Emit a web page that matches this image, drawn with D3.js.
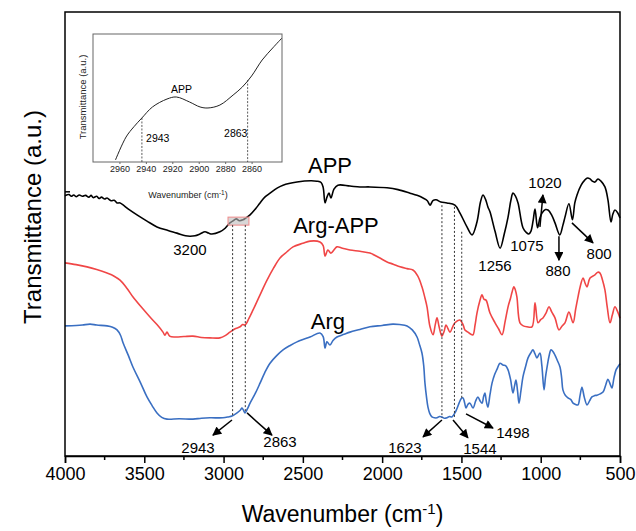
<!DOCTYPE html>
<html>
<head>
<meta charset="utf-8">
<script src="https://cdn.jsdelivr.net/npm/d3@7"></script>
<style>
  body { margin: 0; background: #fff; }
  text { font-family: "Liberation Sans", Arial, sans-serif; }
</style>
</head>
<body>
<div id="chart"></div>
<script>
// ---------------------------
// Data (wavenumber cm-1, transmittance a.u.)
// ---------------------------
const appSpectrum = [
  [4000, 58.6], [3975, 58.9], [3960, 58.5], [3945, 58.8], [3930, 58.4], [3910, 58.8], [3890, 58.5],
  [3870, 58.7], [3850, 58.3], [3835, 58.7], [3823, 58.2], [3800, 58.5], [3785, 58.0], [3770, 58.3],
  [3750, 57.9], [3735, 58.1], [3710, 57.5], [3690, 57.6], [3672, 57.0], [3653, 57.0], [3600, 55.6],
  [3546, 54.3], [3483, 52.9], [3420, 51.6], [3350, 50.8], [3294, 50.2], [3240, 49.6], [3212, 49.5],
  [3180, 49.6], [3149, 50.0], [3117, 50.5], [3095, 50.2], [3073, 50.0], [3023, 50.5], [2990, 51.3],
  [2960, 52.5], [2943, 52.9], [2920, 53.4], [2900, 53.0], [2877, 53.2], [2863, 53.5], [2833, 54.3],
  [2800, 55.6], [2770, 57.0], [2740, 58.3], [2707, 59.2], [2660, 60.4], [2625, 61.0], [2537, 61.7],
  [2450, 62.0], [2411, 61.9], [2385, 61.6], [2372, 60.5], [2360, 57.0], [2348, 58.3], [2335, 59.2],
  [2323, 58.1], [2304, 60.1], [2279, 61.0], [2203, 60.8], [2140, 60.6], [2077, 60.6], [1969, 60.4],
  [1900, 60.0], [1824, 59.2], [1780, 58.7], [1742, 58.1], [1715, 57.5], [1698, 56.5], [1680, 57.5],
  [1660, 57.7], [1630, 57.2], [1591, 57.0], [1541, 56.5], [1509, 54.7], [1465, 51.6], [1433, 49.8],
  [1402, 52.7], [1380, 57.2], [1364, 58.8], [1348, 57.8], [1333, 56.1], [1320, 55.0], [1288, 50.6],
  [1256, 46.8], [1230, 50.0], [1206, 53.8], [1188, 57.6], [1175, 59.2], [1160, 58.6], [1143, 57.0],
  [1112, 51.4], [1090, 50.3], [1075, 50.0], [1062, 50.6], [1048, 53.0], [1036, 55.6], [1020, 51.4],
  [1005, 53.6], [992, 54.7], [970, 55.5], [954, 55.4], [930, 54.2], [910, 52.5], [880, 49.8],
  [860, 52.0], [847, 53.8], [822, 56.8], [800, 53.2], [785, 57.0], [771, 58.8], [745, 61.0],
  [721, 62.2], [705, 62.6], [689, 62.4], [675, 61.9], [658, 61.7], [639, 62.4], [620, 61.9],
  [595, 60.6], [576, 57.7], [557, 52.7], [545, 54.5], [532, 55.4], [515, 54.8], [500, 53.6]
];

const argAppSpectrum = [
  [4000, 43.5], [3930, 43.1], [3861, 42.6], [3800, 42.0], [3735, 41.2], [3690, 40.5], [3653, 39.6],
  [3610, 37.8], [3571, 35.8], [3520, 33.6], [3464, 31.3], [3420, 29.6], [3382, 27.9], [3370, 27.2],
  [3357, 27.9], [3340, 27.0], [3306, 26.8], [3250, 26.9], [3193, 27.0], [3140, 26.7], [3086, 26.6],
  [3023, 26.6], [2990, 27.1], [2960, 27.9], [2930, 28.6], [2896, 29.1], [2880, 29.6], [2865, 29.5],
  [2840, 31.0], [2814, 32.9], [2770, 36.3], [2726, 39.6], [2685, 42.3], [2644, 44.6], [2600, 46.0],
  [2562, 47.1], [2500, 47.9], [2455, 48.4], [2392, 48.2], [2372, 47.4], [2360, 45.0], [2342, 46.4],
  [2323, 45.7], [2300, 46.6], [2285, 47.1], [2250, 46.8], [2203, 46.4], [2140, 46.1], [2077, 45.7],
  [2020, 44.7], [1969, 43.7], [1930, 43.2], [1887, 42.6], [1843, 42.2], [1806, 41.9], [1775, 40.5],
  [1749, 38.1], [1730, 35.6], [1717, 33.6], [1698, 29.1], [1679, 27.3], [1665, 29.6], [1654, 31.1],
  [1640, 29.0], [1623, 27.0], [1610, 28.0], [1597, 29.5], [1585, 28.7], [1572, 27.9], [1555, 29.1],
  [1541, 30.0], [1509, 30.6], [1490, 29.6], [1478, 28.4], [1459, 27.9], [1440, 27.4], [1427, 27.3],
  [1414, 29.5], [1402, 32.2], [1385, 34.8], [1370, 36.3], [1358, 35.3], [1345, 35.1], [1320, 32.2],
  [1288, 30.0], [1265, 28.6], [1244, 27.3], [1225, 30.2], [1206, 33.6], [1190, 35.6], [1181, 36.9],
  [1169, 38.1], [1160, 37.4], [1150, 35.8], [1131, 30.0], [1110, 29.3], [1087, 29.1], [1055, 29.1],
  [1036, 34.5], [1017, 30.0], [1000, 30.7], [986, 31.1], [965, 32.3], [948, 33.6], [930, 32.4],
  [910, 31.1], [885, 28.4], [865, 29.3], [847, 30.0], [822, 32.4], [796, 30.0], [780, 33.0],
  [765, 35.8], [750, 38.3], [733, 40.1], [720, 38.9], [708, 38.1], [689, 40.1], [658, 40.8],
  [640, 41.4], [626, 41.2], [610, 39.6], [595, 37.4], [580, 33.4], [563, 30.0], [548, 31.8],
  [532, 33.6], [515, 32.5], [500, 31.0]
];

const argSpectrum = [
  [4000, 29.3], [3930, 29.4], [3890, 29.5], [3842, 29.7], [3800, 29.5], [3735, 29.3], [3700, 29.0],
  [3672, 28.4], [3650, 27.2], [3634, 25.5], [3600, 22.6], [3571, 20.0], [3525, 16.6], [3483, 13.3],
  [3450, 11.3], [3420, 9.7], [3390, 8.7], [3357, 8.3], [3280, 8.4], [3193, 8.3], [3140, 8.5],
  [3086, 8.6], [3004, 8.6], [2970, 8.8], [2947, 9.0], [2915, 9.7], [2895, 10.3], [2884, 10.8],
  [2873, 10.2], [2865, 9.7], [2850, 10.6], [2833, 11.9], [2800, 14.1], [2770, 16.4], [2740, 18.8],
  [2707, 20.9], [2665, 22.6], [2625, 23.9], [2580, 24.9], [2537, 25.7], [2455, 26.8], [2392, 27.7],
  [2372, 26.9], [2360, 24.3], [2348, 25.7], [2329, 25.0], [2310, 26.0], [2285, 26.8], [2240, 27.4],
  [2203, 27.9], [2140, 28.5], [2077, 29.1], [2000, 29.4], [1932, 29.7], [1890, 29.6], [1843, 29.3],
  [1810, 28.4], [1780, 26.8], [1765, 25.2], [1749, 23.2], [1738, 20.4], [1730, 16.4], [1720, 13.2],
  [1711, 11.0], [1700, 9.6], [1686, 8.8], [1670, 8.6], [1654, 8.6], [1638, 8.9], [1623, 8.8],
  [1607, 8.5], [1591, 8.6], [1575, 8.9], [1560, 8.8], [1541, 9.7], [1528, 10.7], [1515, 11.9],
  [1500, 13.0], [1490, 13.1], [1480, 12.0], [1471, 10.8], [1458, 11.7], [1446, 11.9], [1427, 10.8],
  [1410, 12.4], [1396, 13.3], [1382, 12.4], [1370, 11.9], [1360, 13.4], [1352, 14.2], [1343, 12.3],
  [1333, 11.0], [1320, 13.8], [1307, 16.4], [1290, 18.4], [1276, 19.5], [1257, 20.9], [1238, 20.5],
  [1220, 20.3], [1206, 19.4], [1190, 17.2], [1175, 14.2], [1165, 15.8], [1156, 17.1], [1146, 14.6],
  [1137, 11.9], [1125, 14.6], [1112, 17.8], [1095, 20.2], [1080, 22.1], [1063, 23.2], [1049, 23.9],
  [1036, 23.0], [1024, 22.1], [1005, 23.2], [993, 20.4], [979, 14.9], [970, 17.7], [960, 20.0],
  [948, 22.4], [935, 23.9], [922, 23.5], [910, 22.7], [895, 21.5], [878, 20.0], [868, 17.6],
  [860, 14.9], [845, 13.7], [828, 13.1], [810, 12.7], [796, 11.9], [780, 11.6], [765, 11.5],
  [752, 13.6], [740, 15.5], [725, 13.2], [708, 11.5], [692, 12.4], [677, 13.3], [660, 13.6],
  [645, 13.7], [625, 14.0], [607, 14.4], [590, 16.0], [576, 17.3], [562, 16.2], [551, 15.3],
  [538, 17.6], [525, 19.4], [515, 20.0], [500, 20.8]
];

// zoomed APP region for the inset
const insetSpectrum = [
  [2963, 1.6], [2955, 19.5], [2949, 27.6], [2943, 34.4], [2935, 43.0], [2924, 49.2], [2917, 50.8],
  [2907, 46.9], [2899, 43.0], [2893, 42.2], [2884, 44.5], [2874, 52.3], [2867, 58.6], [2860, 67.2],
  [2852, 79.7], [2844, 89.1], [2837, 96.9]
];

const xTicks = [4000, 3500, 3000, 2500, 2000, 1500, 1000, 500];
const xMinorTicks = [3750, 3250, 2750, 2250, 1750, 1250, 750];
const insetTicks = [2960, 2940, 2920, 2900, 2880, 2860];

const seriesNames = ["APP", "Arg-APP", "Arg"];
const seriesLabelPos = [[2329, 65.5], [2291, 52.0], [2342, 30.2]];

// peak label text, label position (wn, T)
const peakLabels = [
  ["3200", 3212, 46.6], ["1256", 1288, 43.0], ["1075", 1087, 47.5],
  ["1020", 973, 61.5], ["880", 891, 41.7], ["800", 632, 45.7],
  ["2943", 3161, 2.0], ["2863", 2644, 3.2], ["1623", 1856, 2.0],
  ["1544", 1383, 1.6], ["1498", 1175, 5.2]
];

// arrows: from (wn, T) to (wn, T)
const arrows = [
  [1005, 51.6, 986, 58.8], [885, 49.5, 885, 44.1], [803, 52.5, 670, 48.0],
  [2947, 8.1, 3067, 4.7], [2852, 9.7, 2695, 4.7],
  [1623, 8.1, 1742, 4.3], [1553, 8.1, 1459, 4.1], [1471, 9.5, 1301, 6.3]
];

// dashed guides: wavenumber, top T, bottom T
const guides = [
  [2943, 52.0, 9.2], [2863, 52.0, 9.9],
  [1623, 56.5, 8.6], [1544, 56.1, 8.6], [1498, 50.5, 13.1]
];

// ---------------------------
// Layout
// ---------------------------
const width = 636;
const height = 531;
const margin = { left: 65, right: 16, top: 12, bottom: 75 };

const svg = d3.select("#chart")
  .append("svg")
  .attr("width", width)
  .attr("height", height);

const x = d3.scaleLinear().domain([4000, 500]).range([margin.left, width - margin.right]);
const y = d3.scaleLinear().domain([0, 100]).range([height - margin.bottom, margin.top]);

const colors = ["#000000", "#f04646", "#3a6fc2"];

svg.append("defs").append("marker")
  .attr("id", "head")
  .attr("markerUnits", "userSpaceOnUse")
  .attr("viewBox", "0 0 10 10")
  .attr("refX", 9)
  .attr("refY", 5)
  .attr("markerWidth", 10)
  .attr("markerHeight", 9)
  .attr("orient", "auto")
  .append("path")
  .attr("d", "M0,0 L10,5 L0,10 Z")
  .attr("fill", "#000");

// ---------------------------
// Curves
// ---------------------------
const line = d3.line()
  .x(d => x(d[0]))
  .y(d => y(d[1]))
  .curve(d3.curveCatmullRom.alpha(0.5));

[appSpectrum, argAppSpectrum, argSpectrum].forEach((s, i) => {
  svg.append("path")
    .datum(s)
    .attr("fill", "none")
    .attr("stroke", colors[i])
    .attr("stroke-width", 1.6)
    .attr("d", line);
});

// highlighted region on APP
svg.append("rect")
  .attr("x", x(2972))
  .attr("y", y(53.8))
  .attr("width", x(2840) - x(2972))
  .attr("height", y(52.0) - y(53.8))
  .attr("fill", "#bdbdbd")
  .attr("fill-opacity", 0.6)
  .attr("stroke", "#f08a8a")
  .attr("stroke-width", 1);

// dashed guides
svg.append("g")
  .selectAll("line")
  .data(guides)
  .join("line")
  .attr("x1", d => x(d[0]))
  .attr("x2", d => x(d[0]))
  .attr("y1", d => y(d[1]))
  .attr("y2", d => y(d[2]))
  .attr("stroke", "#333")
  .attr("stroke-width", 1)
  .attr("stroke-dasharray", "2,2");

// arrows
svg.append("g")
  .selectAll("line")
  .data(arrows)
  .join("line")
  .attr("x1", d => x(d[0]))
  .attr("y1", d => y(d[1]))
  .attr("x2", d => x(d[2]))
  .attr("y2", d => y(d[3]))
  .attr("stroke", "#000")
  .attr("stroke-width", 1.5)
  .attr("marker-end", "url(#head)");

// peak labels
svg.append("g")
  .selectAll("text")
  .data(peakLabels)
  .join("text")
  .attr("x", d => x(d[1]))
  .attr("y", d => y(d[2]))
  .attr("text-anchor", "middle")
  .attr("dominant-baseline", "central")
  .attr("font-size", 15)
  .text(d => d[0]);

// series labels
svg.append("g")
  .selectAll("text")
  .data(seriesNames)
  .join("text")
  .attr("x", (d, i) => x(seriesLabelPos[i][0]))
  .attr("y", (d, i) => y(seriesLabelPos[i][1]))
  .attr("text-anchor", "middle")
  .attr("dominant-baseline", "central")
  .attr("font-size", 22)
  .text(d => d);

// ---------------------------
// Axes / frame
// ---------------------------
const plotBottom = height - margin.bottom;

svg.append("rect")
  .attr("x", margin.left)
  .attr("y", margin.top)
  .attr("width", width - margin.right - margin.left)
  .attr("height", plotBottom - margin.top)
  .attr("fill", "none")
  .attr("stroke", "#000")
  .attr("stroke-width", 1.5);

const xAxis = svg.append("g")
  .attr("transform", `translate(0,${plotBottom})`)
  .call(d3.axisBottom(x).tickValues(xTicks).tickSize(7).tickPadding(4).tickFormat(d3.format("d")));
xAxis.select(".domain").attr("stroke-width", 1.5);
xAxis.selectAll(".tick line").attr("stroke-width", 1.5);
xAxis.selectAll("text").attr("font-size", 18).attr("fill", "#000")
  .attr("font-family", "Liberation Sans, Arial, sans-serif");

svg.append("g")
  .attr("transform", `translate(0,${plotBottom})`)
  .selectAll("line")
  .data(xMinorTicks)
  .join("line")
  .attr("x1", d => x(d))
  .attr("x2", d => x(d))
  .attr("y1", 0)
  .attr("y2", 4)
  .attr("stroke", "#000")
  .attr("stroke-width", 1.5);

// y tick (no labels)
svg.append("line")
  .attr("x1", margin.left)
  .attr("x2", margin.left + 5)
  .attr("y1", y(59.5))
  .attr("y2", y(59.5))
  .attr("stroke", "#000")
  .attr("stroke-width", 1.5);

const xTitle = svg.append("text")
  .attr("x", (margin.left + width - margin.right) / 2)
  .attr("y", 522)
  .attr("text-anchor", "middle")
  .attr("font-size", 23);
xTitle.append("tspan").text("Wavenumber (cm");
xTitle.append("tspan").attr("baseline-shift", "super").attr("font-size", 15).text("-1");
xTitle.append("tspan").text(")");

svg.append("text")
  .attr("transform", `translate(32,${(margin.top + plotBottom) / 2 - 17}) rotate(-90)`)
  .attr("text-anchor", "middle")
  .attr("dominant-baseline", "central")
  .attr("font-size", 24)
  .text("Transmittance (a.u.)");

// ---------------------------
// Inset
// ---------------------------
const ix = d3.scaleLinear().domain([2980, 2837]).range([93, 282]);
const iy = d3.scaleLinear().domain([0, 100]).range([162, 34]);

const inset = svg.append("g");

inset.append("clipPath").attr("id", "insetClip")
  .append("rect").attr("x", 93).attr("y", 34).attr("width", 189).attr("height", 128);

inset.append("path")
  .datum(insetSpectrum)
  .attr("clip-path", "url(#insetClip)")
  .attr("fill", "none")
  .attr("stroke", "#222")
  .attr("stroke-width", 1)
  .attr("d", d3.line().x(d => ix(d[0])).y(d => iy(d[1])).curve(d3.curveCatmullRom.alpha(0.5)));

inset.append("rect")
  .attr("x", 93).attr("y", 34).attr("width", 189).attr("height", 128)
  .attr("fill", "none")
  .attr("stroke", "#666")
  .attr("stroke-width", 1);

const insetGuides = [[2943, 34.4], [2863, 64.0]];
inset.selectAll("line.g")
  .data(insetGuides)
  .join("line")
  .attr("x1", d => ix(d[0]))
  .attr("x2", d => ix(d[0]))
  .attr("y1", d => iy(d[1]))
  .attr("y2", iy(0))
  .attr("stroke", "#333")
  .attr("stroke-width", 0.8)
  .attr("stroke-dasharray", "2,1.5");

const insetLabels = [["2943", 2931, 18.8, "middle"], ["2863", 2872, 22.7, "middle"], ["APP", 2913, 57, "middle"]];
inset.selectAll("text.l")
  .data(insetLabels)
  .join("text")
  .attr("x", d => ix(d[1]))
  .attr("y", d => iy(d[2]))
  .attr("text-anchor", d => d[3])
  .attr("dominant-baseline", "central")
  .attr("font-size", 10.5)
  .text(d => d[0]);

const iAxis = inset.append("g")
  .attr("transform", "translate(0,162)")
  .call(d3.axisBottom(ix).tickValues(insetTicks).tickSize(2).tickPadding(2).tickFormat(d3.format("d")));
iAxis.select(".domain").remove();
iAxis.selectAll(".tick line").attr("stroke", "#666");
iAxis.selectAll("text").attr("font-size", 9).attr("fill", "#222")
  .attr("font-family", "Liberation Sans, Arial, sans-serif");

const iTitle = inset.append("text")
  .attr("x", 188)
  .attr("y", 198)
  .attr("text-anchor", "middle")
  .attr("font-size", 9)
  .attr("fill", "#222");
iTitle.append("tspan").text("Wavenumber (cm");
iTitle.append("tspan").attr("baseline-shift", "super").attr("font-size", 6.5).text("-1");
iTitle.append("tspan").text(")");

inset.append("text")
  .attr("transform", "translate(82,97) rotate(-90)")
  .attr("text-anchor", "middle")
  .attr("dominant-baseline", "central")
  .attr("font-size", 9.5)
  .attr("fill", "#222")
  .text("Transmittance (a.u.)");
</script>
</body>
</html>
